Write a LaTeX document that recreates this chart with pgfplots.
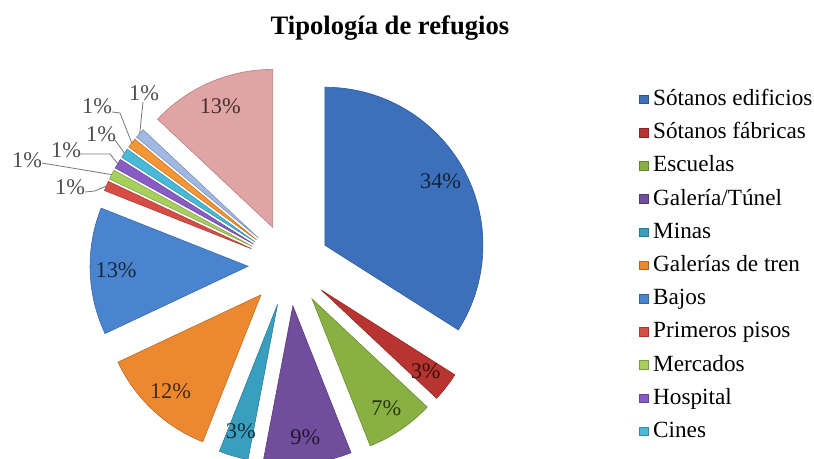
\documentclass[border=0pt]{standalone}
\usepackage{pgfplots}
\pgfplotsset{compat=1.18}
\usepackage{pgfplotstable}
\usepackage{fontspec}
\setmainfont{Liberation Serif}

\definecolor{c0}{RGB}{60,112,186}
\definecolor{c1}{RGB}{184,52,48}
\definecolor{c2}{RGB}{136,176,66}
\definecolor{c3}{RGB}{112,78,156}
\definecolor{c4}{RGB}{58,158,190}
\definecolor{c5}{RGB}{236,136,48}
\definecolor{c6}{RGB}{74,132,206}
\definecolor{c7}{RGB}{216,76,70}
\definecolor{c8}{RGB}{168,206,92}
\definecolor{c9}{RGB}{136,92,196}
\definecolor{c10}{RGB}{72,186,216}
\definecolor{c11}{RGB}{244,150,52}
\definecolor{c12}{RGB}{160,184,226}
\definecolor{c13}{RGB}{224,164,164}
\definecolor{leadgray}{RGB}{120,120,120}

\pgfplotstableread{
slice value
0 34
1 3
2 7
3 9
4 3
5 12
6 13
7 1
8 1
9 1
10 1
11 1
12 1
13 13
}\piedata

\begin{document}
\begin{tikzpicture}
\pgfplotstablegetrowsof{\piedata}
\pgfmathtruncatemacro\lastrow{\pgfplotsretval-1}
\gdef\cum{0}
\def\Cx{289}\def\Cy{194}\def\Ex{41}\def\Rl{132}\def\Rpx{158}
\foreach \i in {0,...,\lastrow}{
  \pgfplotstablegetelem{\i}{value}\of\piedata
  \let\v\pgfplotsretval
  \pgfmathsetmacro\sa{90-3.6*\cum}
  \pgfmathsetmacro\sb{90-3.6*(\cum+\v)}
  \pgfmathsetmacro\sm{(\sa+\sb)/2}
  \pgfmathsetmacro\px{\Cx+\Ex*cos(\sm)}
  \pgfmathsetmacro\py{\Cy+\Ex*sin(\sm)}
  \pgfmathsetmacro\lx{\px+\Rl*cos(\sm)}
  \pgfmathsetmacro\ly{\py+\Rl*sin(\sm)}
  \pgfmathsetmacro\ox{\px+\Rpx*cos(\sm)}
  \pgfmathsetmacro\oy{\py+\Rpx*sin(\sm)}
  \pgfmathtruncatemacro\vv{\v}
  \expandafter\xdef\csname sa\i\endcsname{\sa}
  \expandafter\xdef\csname sb\i\endcsname{\sb}
  \expandafter\xdef\csname px\i\endcsname{\px}
  \expandafter\xdef\csname py\i\endcsname{\py}
  \expandafter\xdef\csname lx\i\endcsname{\lx}
  \expandafter\xdef\csname ly\i\endcsname{\ly}
  \expandafter\xdef\csname ox\i\endcsname{\ox}
  \expandafter\xdef\csname oy\i\endcsname{\oy}
  \expandafter\xdef\csname val\i\endcsname{\vv}
  \pgfmathsetmacro\nc{\cum+\v}
  \xdef\cum{\nc}
}
\useasboundingbox (0,0) rectangle (407pt,229.5pt);
\begin{axis}[
  at={(0,0)}, anchor=south west,
  scale only axis, x=0.5pt, y=0.5pt,
  xmin=0, xmax=814, ymin=0, ymax=459,
  hide axis, clip=true,
  title={Tipología de refugios},
  every axis title shift=0pt,
  title style={at={(0.479,0.938)}, anchor=center, font=\bfseries\fontsize{13.3}{16}\selectfont},
  legend cell align=left,
  legend style={at={(0.785,0.807)}, anchor=north west, draw=none, fill=none,
    inner sep=0pt, outer sep=0pt,
    font=\fontsize{11.6}{13}\selectfont, row sep=5.6pt,
    nodes={inner sep=0pt, text height=8.5pt, text depth=2.5pt},
    /tikz/every odd column/.append style={column sep=2.4pt}},
  legend image code/.code={\fill[#1] (0pt,-2.1pt) rectangle (4.3pt,2.2pt);},
]
\addlegendimage{c0, draw=c0!75!black}\addlegendentry{Sótanos edificios}
\addlegendimage{c1, draw=c1!75!black}\addlegendentry{Sótanos fábricas}
\addlegendimage{c2, draw=c2!75!black}\addlegendentry{Escuelas}
\addlegendimage{c3, draw=c3!75!black}\addlegendentry{Galería/Túnel}
\addlegendimage{c4, draw=c4!75!black}\addlegendentry{Minas}
\addlegendimage{c5, draw=c5!75!black}\addlegendentry{Galerías de tren}
\addlegendimage{c6, draw=c6!75!black}\addlegendentry{Bajos}
\addlegendimage{c7, draw=c7!75!black}\addlegendentry{Primeros pisos}
\addlegendimage{c8, draw=c8!75!black}\addlegendentry{Mercados}
\addlegendimage{c9, draw=c9!75!black}\addlegendentry{Hospital}
\addlegendimage{c10, draw=c10!75!black}\addlegendentry{Cines}

\pgfplotsinvokeforeach{0,...,13}{
  \fill[c#1, draw=c#1!80!black, line width=0.3pt]
    (axis cs:\csname px#1\endcsname,\csname py#1\endcsname) -- ++(\csname sa#1\endcsname:79pt)
    arc[start angle=\csname sa#1\endcsname, end angle=\csname sb#1\endcsname, radius=79pt] -- cycle;
}
\pgfplotsinvokeforeach{0,1,2,3,4,5,6,13}{
  \node[text=c#1!30!black, font=\fontsize{11.2}{13}\selectfont]
    at (axis cs:\csname lx#1\endcsname,\csname ly#1\endcsname) {\csname val#1\endcsname\%};
}
% leader lines and labels of the 1% slices
\begin{scope}[leadgray, line width=0.4pt]
\draw (axis cs:143,357) -- (axis cs:\csname ox12\endcsname,\csname oy12\endcsname);
\draw (axis cs:112,347) -- (axis cs:120,346) -- (axis cs:\csname ox11\endcsname,\csname oy11\endcsname);
\draw (axis cs:115,319) -- (axis cs:\csname ox10\endcsname,\csname oy10\endcsname);
\draw (axis cs:80,305) -- (axis cs:110,305) -- (axis cs:\csname ox9\endcsname,\csname oy9\endcsname);
\draw (axis cs:42,296) -- (axis cs:\csname ox8\endcsname,\csname oy8\endcsname);
\draw (axis cs:85,267) -- (axis cs:95,268) -- (axis cs:\csname ox7\endcsname,\csname oy7\endcsname);
\end{scope}
\begin{scope}[every node/.style={text=black!70, font=\fontsize{11.2}{13}\selectfont}]
\node at (axis cs:144,366) {\csname val12\endcsname\%};
\node at (axis cs:97,353) {\csname val11\endcsname\%};
\node at (axis cs:101,325) {\csname val10\endcsname\%};
\node at (axis cs:66,309) {\csname val9\endcsname\%};
\node at (axis cs:27,299) {\csname val8\endcsname\%};
\node at (axis cs:70,272) {\csname val7\endcsname\%};
\end{scope}
\end{axis}
\end{tikzpicture}
\end{document}
